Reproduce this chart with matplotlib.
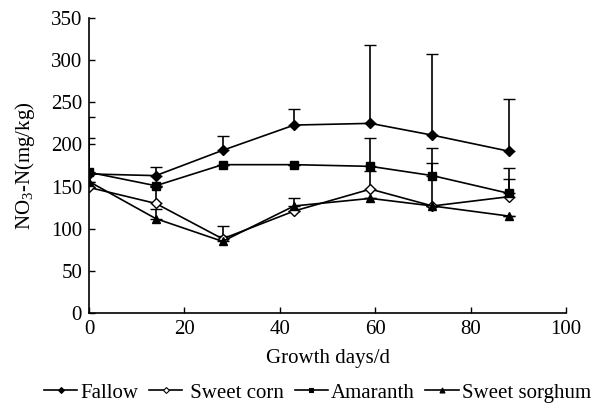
import matplotlib.pyplot as plt
from matplotlib.lines import Line2D
import numpy as np

plt.rcParams['font.family'] = ['Liberation Serif', 'DejaVu Serif']
plt.rcParams['mathtext.fontset'] = 'custom'
plt.rcParams['mathtext.rm'] = 'Liberation Serif'

days = [0, 14, 28, 43, 59, 72, 88]

fallow = [165, 163, 193, 223, 225, 211, 192]
fallow_err = [67, 10, 17, 19, 93, 96, 62]

sweet_corn = [149, 130, 88, 121, 147, 127, 138]
sweet_corn_err = [0, 20, 15, 0, 21, 51, 21]

amaranth = [167, 151, 176, 176, 174, 163, 142]
amaranth_err = [41, 0, 0, 0, 34, 33, 30]

sweet_sorghum = [156, 112, 85, 127, 136, 127, 115]
sweet_sorghum_err = [0, 11, 6, 10, 0, 0, 0]

series = [
    ('Fallow', fallow, fallow_err, 'D', 'black', 5),
    (' Sweet corn', sweet_corn, sweet_corn_err, 'D', 'white', 5),
    ('Amaranth', amaranth, amaranth_err, 's', 'black', 5.5),
    ('Sweet sorghum', sweet_sorghum, sweet_sorghum_err, '^', 'black', 6),
]

fig = plt.figure(figsize=(5.99, 4.03), dpi=100)
ax = fig.add_axes([0.1486, 0.2233, 0.7964, 0.732])

handles = []
for name, vals, err, mk, fc, ms in series:
    lo = np.zeros(len(err))
    ax.errorbar(days, vals, yerr=[lo, err], color='black', lw=1.2,
                marker=mk, markersize=ms, markerfacecolor=fc,
                markeredgecolor='black', markeredgewidth=1.0,
                elinewidth=1.2, capsize=4, capthick=1.2)
    handles.append(Line2D([], [], color='black', lw=1.2, marker=mk,
                          markersize=ms * 0.6, markerfacecolor=fc,
                          markeredgecolor='black', markeredgewidth=0.8,
                          label=name))

ax.set_xlim(0, 100)
ax.set_ylim(0, 350)
ax.set_xticks([0, 20, 40, 60, 80, 100])
ax.set_yticks(np.arange(0, 351, 50))
ax.spines['top'].set_visible(False)
ax.spines['right'].set_visible(False)
ax.spines['left'].set_linewidth(1.2)
ax.spines['bottom'].set_linewidth(1.2)
ax.tick_params(direction='in', length=4, width=1.0, labelsize=15, pad=5)
ax.set_xlabel('Growth days/d', fontsize=15, labelpad=7)
ax.set_ylabel('NO$_3$-N(mg/kg)', fontsize=15, labelpad=10)

fig.legend(handles=handles, loc='center', bbox_to_anchor=(0.53, 0.025),
           ncol=4, frameon=False, fontsize=15, handlelength=1.6,
           handletextpad=0.15, columnspacing=0.5, borderpad=0.1)

fig.savefig('out.png', dpi=100)
